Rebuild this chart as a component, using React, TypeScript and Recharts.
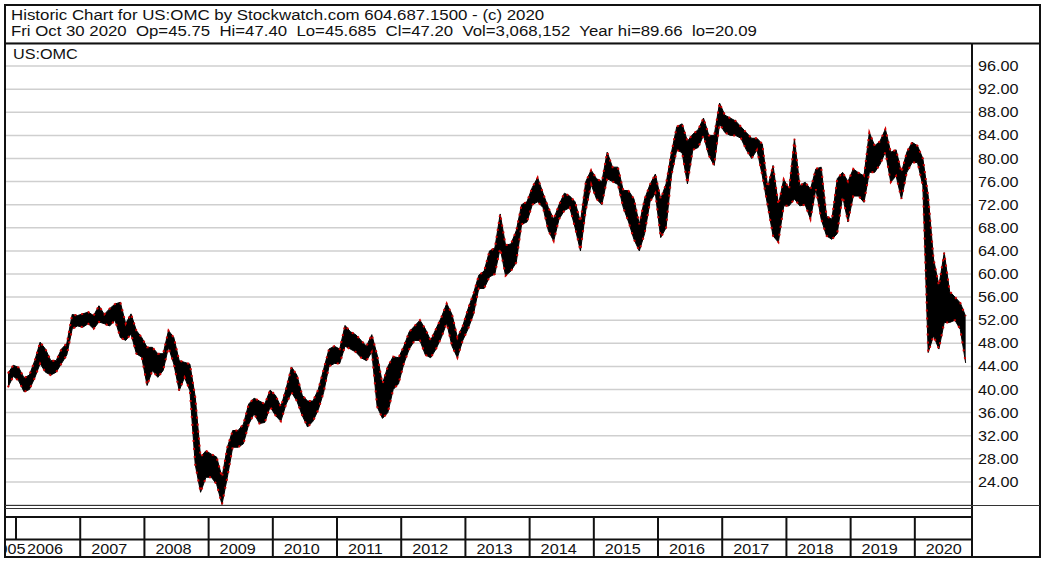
import { Area, CartesianGrid, ComposedChart, Line, XAxis, YAxis } from "recharts";

// monthly [low, high]
const Y2005: [number, number][] = [[40.4, 42.8], [42.3, 44.2]];
const Y2006: [number, number][] = [
  [41.5, 43.8], [39.6, 42], [40, 42.5], [42, 45], [44.5, 48.2], [43, 47],
  [42.5, 45], [43, 45], [44.5, 47], [46, 48], [50.5, 53], [51, 52.8],
];
const Y2007: [number, number][] = [
  [50.8, 53.1], [51.4, 53.4], [50.5, 52.8], [51.7, 54.5], [51.4, 53], [51, 54],
  [52, 54.8], [49, 55.1], [48.5, 51.4], [49.6, 53.1], [46.2, 50.2], [45.6, 49],
];
const Y2008: [number, number][] = [
  [40.7, 47.3], [43.3, 47.3], [42.1, 46.2], [43.3, 46.2], [47.3, 50.2], [44.4, 49],
  [39.8, 45], [42.1, 44.7], [39.8, 44.4], [27, 38.7], [22.2, 28.3], [24.8, 29.4],
];
const Y2009: [number, number][] = [
  [24.8, 28.8], [23.6, 28.3], [20.1, 24.8], [24.8, 30], [30, 32.9], [30, 32.9],
  [30.6, 34], [34, 37.5], [35.8, 38.5], [34.1, 38], [34.3, 37.5], [37, 39.9],
];
const Y2010: [number, number][] = [
  [35.5, 39], [34.5, 37], [37.5, 40.2], [39.5, 43.9], [38, 42.5], [35.5, 39],
  [33.5, 38], [34.5, 38], [36.5, 40], [39.5, 43.5], [44, 47], [44.5, 47.5],
];
const Y2011: [number, number][] = [
  [44.5, 47], [47.5, 51.1], [47, 50], [46.5, 49.5], [45.5, 48.5], [45, 47.5],
  [46.5, 49.5], [37, 46], [35, 41], [36, 44], [40, 45.7], [41, 45.5],
];
const Y2012: [number, number][] = [
  [44.5, 47.5], [47, 50], [48.5, 51], [48.5, 52], [46, 50.5], [45.5, 48.5],
  [47, 50.5], [49, 52.5], [51.5, 54.9], [47.5, 53], [45.5, 49], [48.5, 51],
];
const Y2013: [number, number][] = [
  [50.5, 54], [53, 56.6], [57.5, 59.8], [57.5, 60.5], [59.5, 64], [60, 64.5],
  [64.5, 70.4], [59.7, 65], [60.5, 65.2], [62, 67.5], [68.6, 72], [69, 72.5],
];
const Y2014: [number, number][] = [
  [72, 75], [72.5, 76.7], [71.5, 74], [67.5, 71.5], [65.7, 69.5], [69.5, 72],
  [71, 74], [71.5, 73.5], [68, 72.5], [64, 69], [71, 76], [75.5, 78],
];
const Y2015: [number, number][] = [
  [73, 76.5], [72, 76], [76.5, 81.1], [76, 78.5], [75.5, 78.5], [71.5, 74.5],
  [69, 74.4], [66, 73], [64, 68.6], [67, 73], [72.5, 75.5], [74, 77.3],
];
const Y2016: [number, number][] = [
  [66.3, 73], [68, 75.6], [77, 81], [81.5, 85.5], [81, 86], [75.6, 83],
  [81.5, 84.2], [81.9, 85], [84, 87], [80.5, 84], [78.8, 84], [86, 89.6],
];
const Y2017: [number, number][] = [
  [84.5, 87.5], [84, 87], [84, 86.5], [83.5, 85.5], [81.5, 84.5], [80, 83.5],
  [81.5, 83.5], [77, 82.5], [71.8, 75], [66.6, 78.8], [65.5, 72], [71.8, 76.4],
];
const Y2018: [number, number][] = [
  [71.8, 74.7], [73, 83.4], [71.8, 75.3], [72, 75.9], [69.5, 74.7], [74.7, 78.2],
  [69.5, 78.5], [66.6, 70], [66, 69.5], [67, 76.5], [73.5, 77.6], [69, 76],
];
const Y2019: [number, number][] = [
  [73.5, 78.2], [73.5, 77.5], [72.4, 77], [77.6, 84.5], [77.6, 82.2], [79, 83],
  [81.1, 85.1], [75.9, 81.1], [77, 81.5], [73, 77.6], [77.6, 81.1], [79.3, 82.8],
];
const Y2020: [number, number][] = [
  [79.3, 82.2], [75.3, 80], [46.4, 73.5], [49.3, 62.6], [47, 58], [51.6, 63.7],
  [51.6, 57], [52, 56], [50.4, 55], [44.6, 52.7],
];

// [year, first month, ranges]
const SERIES: [number, number, [number, number][]][] = [
  [2005, 11, Y2005], [2006, 1, Y2006], [2007, 1, Y2007], [2008, 1, Y2008],
  [2009, 1, Y2009], [2010, 1, Y2010], [2011, 1, Y2011], [2012, 1, Y2012],
  [2013, 1, Y2013], [2014, 1, Y2014], [2015, 1, Y2015], [2016, 1, Y2016],
  [2017, 1, Y2017], [2018, 1, Y2018], [2019, 1, Y2019], [2020, 1, Y2020],
];

const YEAR_TICKS = [2006, 2007, 2008, 2009, 2010, 2011, 2012, 2013, 2014, 2015, 2016, 2017, 2018, 2019, 2020];
const PRICE_TICKS = [24, 28, 32, 36, 40, 44, 48, 52, 56, 60, 64, 68, 72, 76, 80, 84, 88, 92, 96];

const TITLE = "Historic Chart for US:OMC by Stockwatch.com 604.687.1500 - (c) 2020";
const QUOTE = [
  "Fri Oct 30 2020",
  "Op=45.75",
  "Hi=47.40",
  "Lo=45.685",
  "Cl=47.20",
  "Vol=3,068,152",
  "Year hi=89.66",
  "lo=20.09",
];
const SYMBOL = "US:OMC";

const FONT = '"Liberation Sans", Arial, sans-serif';
const INK = "#111";
const TICK_RED = "#d10000";

const data = SERIES.flatMap(([year, first, ranges]) =>
  ranges.map(([low, high], i) => ({
    t: year + (first - 1 + i + 0.5) / 12,
    low,
    high,
  }))
);

function YearTick(props: any) {
  const { x, payload } = props;
  const year = payload.value as number;
  return (
    <g>
      <line x1={x} x2={x} y1={517} y2={year === 2006 ? 539 : 557} stroke={INK} strokeWidth={2} />
      <text transform={`translate(${x + 11},554) scale(1.08,1)`} fontSize={15} fontFamily={FONT} fill={INK}>
        {year}
      </text>
      {year === 2006 && (
        <text transform={`translate(${x + 9.5},554) scale(1.08,1)`} textAnchor="end" fontSize={15} fontFamily={FONT} fill={INK}>
          2005
        </text>
      )}
    </g>
  );
}

function PriceTick(props: any) {
  const { x, y, payload } = props;
  return (
    <text transform={`translate(${x},${y + 5}) scale(1.08,1)`} fontSize={15} fontFamily={FONT} fill={INK}>
      {(payload.value as number).toFixed(2)}
    </text>
  );
}

export default function App() {
  return (
    <div style={{ position: "absolute", left: 0, top: 0, width: 1046, height: 566, background: "#fff" }}>
      <ComposedChart width={1046} height={566} data={data} margin={{ top: 43, right: 0, bottom: 0, left: 6 }}>
        <CartesianGrid vertical={false} stroke="#cfcfcf" strokeWidth={1.5} />
        <XAxis
          type="number"
          dataKey="t"
          domain={[2005.844, 2020.875]}
          allowDataOverflow
          ticks={YEAR_TICKS}
          interval={0}
          height={61}
          axisLine={false}
          tickLine={false}
          tick={(p: any) => <YearTick {...p} />}
        />
        <YAxis
          orientation="right"
          domain={[20, 100]}
          allowDataOverflow
          ticks={PRICE_TICKS}
          interval={0}
          width={75}
          axisLine={false}
          tickLine={false}
          tickSize={0}
          tickMargin={7}
          tick={(p: any) => <PriceTick {...p} />}
        />
        <Area
          type="linear"
          dataKey={(d: any) => [d.low, d.high]}
          stroke="#000"
          strokeWidth={1}
          fill="#000"
          fillOpacity={1}
          dot={false}
          activeDot={false}
          isAnimationActive={false}
        />
        <Line dataKey="high" stroke={TICK_RED} strokeWidth={2} strokeDasharray="2 5" dot={false} activeDot={false} isAnimationActive={false} />
        <Line dataKey="low" stroke={TICK_RED} strokeWidth={2} strokeDasharray="2 6" dot={false} activeDot={false} isAnimationActive={false} />
      </ComposedChart>

      <svg width={1046} height={566} style={{ position: "absolute", left: 0, top: 0, pointerEvents: "none" }}>
        <rect x={0} y={0} width={4} height={566} fill="#fff" />
        <rect x={5} y={5} width={1035} height={552} fill="none" stroke={INK} strokeWidth={2} />
        <line x1={5} x2={1040} y1={43.5} y2={43.5} stroke={INK} strokeWidth={2} />
        <line x1={972} x2={972} y1={43.5} y2={557} stroke={INK} strokeWidth={2} />
        <line x1={5} x2={1040} y1={505.5} y2={505.5} stroke="#333" strokeWidth={1} />
        <line x1={5} x2={972} y1={508.5} y2={508.5} stroke="#333" strokeWidth={1} />
        <line x1={5} x2={972} y1={517} y2={517} stroke={INK} strokeWidth={2} />
        <line x1={5} x2={972} y1={539.5} y2={539.5} stroke={INK} strokeWidth={2} />
        <g fontFamily={FONT} fontSize={15} fill={INK}>
          <text transform="translate(11,20) scale(1.125,1)">{TITLE}</text>
          <text transform="translate(11,36) scale(1.12,1)" style={{ whiteSpace: "pre" }}>
            {QUOTE.join("  ")}
          </text>
          <text transform="translate(13,59) scale(1.08,1)">{SYMBOL}</text>
        </g>
      </svg>
    </div>
  );
}
